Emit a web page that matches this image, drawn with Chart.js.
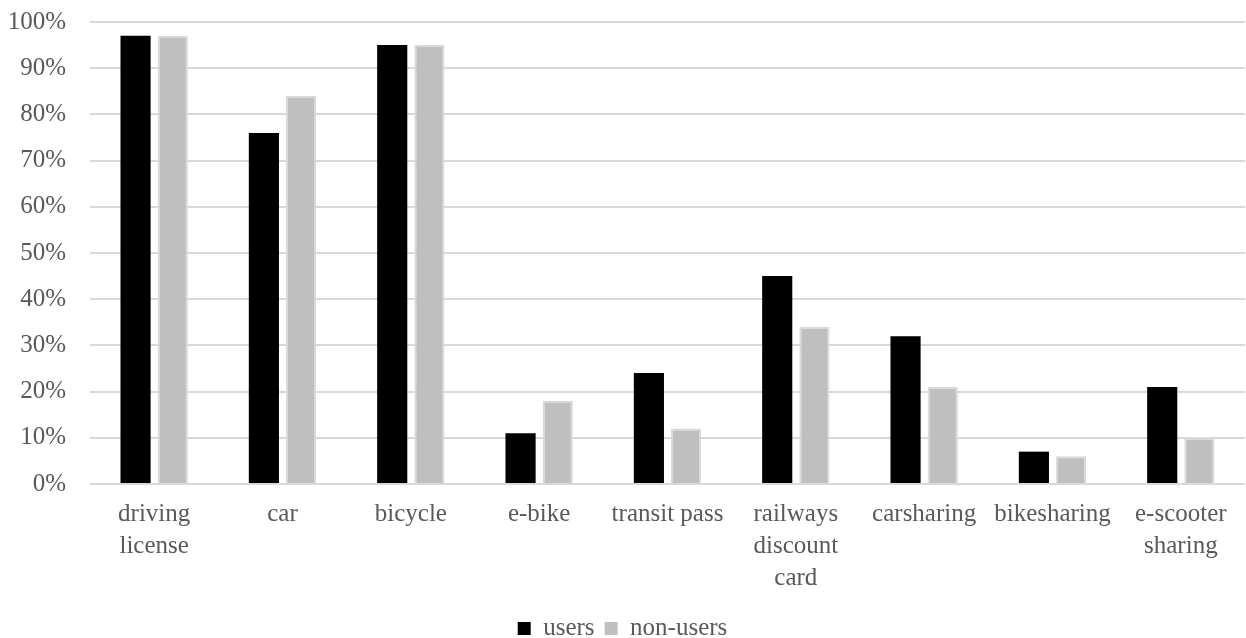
<!DOCTYPE html>
<html>
<head>
<meta charset="utf-8">
<script src="https://cdn.jsdelivr.net/npm/chart.js@4.4.1/dist/chart.umd.min.js"></script>
<style>
  html, body { margin: 0; padding: 0; background: #ffffff; }
  #wrap { width: 1246px; height: 638px; position: relative; }
</style>
</head>
<body>
<div id="wrap"><canvas id="chart"></canvas></div>
<script>
// Ownership / access to mobility options, shares in percent
const categories = [
  ["driving", "license"],
  "car",
  "bicycle",
  "e-bike",
  "transit pass",
  ["railways", "discount", "card"],
  "carsharing",
  "bikesharing",
  ["e-scooter", "sharing"]
];
const usersValues    = [97, 76, 95, 11, 24, 45, 32, 7, 21];
const nonUsersValues = [97, 84, 95, 18, 12, 34, 21, 6, 10];
const seriesNames = ["users", "non-users"];

const FONT = "'Liberation Serif', 'Times New Roman', serif";
const TEXT = "#595959";

new Chart(document.getElementById("chart"), {
  type: "bar",
  data: {
    labels: categories,
    datasets: [
      {
        label: seriesNames[0],
        data: usersValues,
        backgroundColor: "#000000",
        borderColor: "#000000",
        borderWidth: 0,
        categoryPercentage: 0.58,
        barPercentage: 0.81
      },
      {
        label: seriesNames[1],
        data: nonUsersValues,
        backgroundColor: "#bfbfbf",
        borderColor: "#d9d9d9",
        borderWidth: 2,
        categoryPercentage: 0.58,
        barPercentage: 0.81
      }
    ]
  },
  options: {
    responsive: true,
    maintainAspectRatio: false,
    animation: false,
    layout: { padding: { top: 22, right: 1, left: 0, bottom: -13 } },
    plugins: {
      legend: {
        position: "bottom",
        labels: {
          font: { family: FONT, size: 25, lineHeight: 1.0 },
          color: TEXT,
          boxWidth: 13,
          boxHeight: 13,
          padding: 10,
          generateLabels(chart) {
            return chart.data.datasets.map((ds, i) => ({
              text: ds.label,
              fillStyle: ds.backgroundColor,
              strokeStyle: ds.backgroundColor,
              lineWidth: 0,
              fontColor: TEXT,
              datasetIndex: i
            }));
          }
        }
      },
      tooltip: { enabled: false }
    },
    scales: {
      x: {
        grid: { display: false, drawTicks: false },
        border: { display: false },
        ticks: {
          font: { family: FONT, size: 25, lineHeight: 1.28 },
          color: TEXT,
          padding: 14,
          maxRotation: 0,
          autoSkip: false
        },
        afterFit(scale) { scale.height = 122; }
      },
      y: {
        min: 0,
        max: 100,
        grid: { color: "#d9d9d9", lineWidth: 2, drawTicks: false },
        border: { display: false },
        ticks: {
          stepSize: 10,
          font: { family: FONT, size: 25 },
          color: TEXT,
          padding: 24,
          callback: v => v + "%"
        },
        afterFit(scale) {
          scale.width = 90;
          scale.paddingTop = 0;
          scale.paddingBottom = 0;
        }
      }
    }
  }
});
</script>
</body>
</html>
